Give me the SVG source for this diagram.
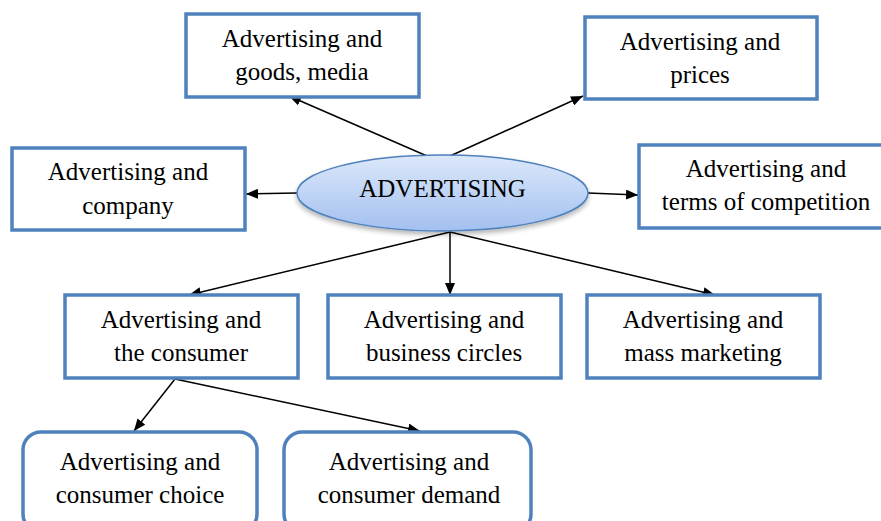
<svg xmlns="http://www.w3.org/2000/svg" width="881" height="521" viewBox="0 0 881 521">
<style>
.box{fill:#fff;stroke:#4F81BD;stroke-width:3.5}
text{font-family:'Liberation Serif','Times New Roman',serif;font-size:25px;fill:#000;text-anchor:middle}
.c{stroke:#000;stroke-width:1.5;fill:none;marker-end:url(#ah)}
</style>
<defs>
<marker id="ah" viewBox="0 0 12 10" refX="12" refY="5" markerWidth="12" markerHeight="10" markerUnits="userSpaceOnUse" orient="auto">
<path d="M0,0 L12,5 L0,10 Z" fill="#000"/>
</marker>
<linearGradient id="eg" x1="0" y1="0" x2="0" y2="1">
<stop offset="0" stop-color="#dce8fa"/>
<stop offset="1" stop-color="#a3c0f0"/>
</linearGradient>
<filter id="sh" x="-10%" y="-20%" width="120%" height="150%">
<feGaussianBlur in="SourceAlpha" stdDeviation="2.5"/>
<feOffset dx="0" dy="3" result="b"/>
<feComponentTransfer><feFuncA type="linear" slope="0.3"/></feComponentTransfer>
<feMerge><feMergeNode/><feMergeNode in="SourceGraphic"/></feMerge>
</filter>
</defs>
<g id="connectors">
<line class="c" x1="427" y1="156" x2="289" y2="96"/>
<line class="c" x1="450" y1="156" x2="583" y2="96"/>
<line class="c" x1="297" y1="193" x2="246" y2="194"/>
<line class="c" x1="588" y1="193" x2="638" y2="195"/>
<line class="c" x1="450" y1="232" x2="189" y2="295"/>
<line class="c" x1="450" y1="232" x2="450" y2="295"/>
<line class="c" x1="450" y1="232" x2="715" y2="295"/>
<line class="c" x1="175" y1="379" x2="134" y2="431"/>
<line class="c" x1="175" y1="379" x2="420" y2="431"/>
</g>
<g id="n-advertising">
<ellipse cx="442.5" cy="193" rx="145.5" ry="38" fill="url(#eg)" stroke="#4F81BD" stroke-width="1.5" filter="url(#sh)"/>
<text x="442.5" y="197">ADVERTISING</text>
</g>
<g id="n-goods">
<rect class="box" x="186" y="14" width="233" height="83"/>
<text x="302" y="47">Advertising and</text>
<text x="302" y="80">goods, media</text>
</g>
<g id="n-prices">
<rect class="box" x="585" y="17" width="232" height="82"/>
<text x="700" y="50">Advertising and</text>
<text x="700" y="83">prices</text>
</g>
<g id="n-company">
<rect class="box" x="12" y="148" width="233" height="82"/>
<text x="128" y="180">Advertising and</text>
<text x="128" y="214">company</text>
</g>
<g id="n-competition">
<rect class="box" x="639" y="145" width="250" height="83"/>
<text x="766" y="177">Advertising and</text>
<text x="766" y="210">terms of competition</text>
</g>
<g id="n-consumer">
<rect class="box" x="65" y="295" width="233" height="83"/>
<text x="181" y="328">Advertising and</text>
<text x="181" y="361">the consumer</text>
</g>
<g id="n-business">
<rect class="box" x="328" y="295" width="233" height="83"/>
<text x="444" y="328">Advertising and</text>
<text x="444" y="361">business circles</text>
</g>
<g id="n-mass">
<rect class="box" x="587" y="295" width="233" height="83"/>
<text x="703" y="328">Advertising and</text>
<text x="703" y="361">mass marketing</text>
</g>
<g id="n-choice">
<rect class="box" x="23" y="432" width="234" height="100" rx="18"/>
<text x="140" y="470">Advertising and</text>
<text x="140" y="503">consumer choice</text>
</g>
<g id="n-demand">
<rect class="box" x="284" y="432" width="247" height="100" rx="18"/>
<text x="409" y="470">Advertising and</text>
<text x="409" y="503">consumer demand</text>
</g>
</svg>
